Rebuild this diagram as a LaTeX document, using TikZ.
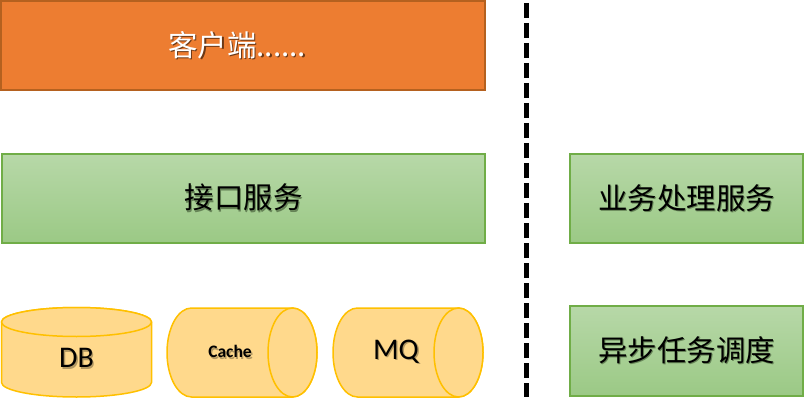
\documentclass[tikz,border=0pt]{standalone}
\usepackage{fontspec}
\newfontfamily\cjk{Noto Sans CJK SC}
\newfontfamily\lat{Carlito}
\usetikzlibrary{calc}
\definecolor{orfill}{HTML}{ED7D31}
\definecolor{ordraw}{HTML}{B5611F}
\definecolor{gtop}{HTML}{B7D8A8}
\definecolor{gbot}{HTML}{9BC985}
\definecolor{gdraw}{HTML}{70AD47}
\definecolor{yfill}{HTML}{FFD98C}
\definecolor{ydraw}{HTML}{FFC000}
\newcommand\shd[2]{\makebox[0pt][l]{\kern1.4pt\raisebox{-1.4pt}{\color{#2}#1}}#1}
\tikzset{
  obox/.style={draw=ordraw, fill=orfill, line width=1.5pt, inner sep=0pt, outer sep=0pt},
  gbox/.style={draw=gdraw, top color=gtop, bottom color=gbot, line width=1.5pt, inner sep=0pt, outer sep=0pt},
  cyl/.style={draw=ydraw, fill=yfill, line width=1.5pt},
  cjklabel/.style={font=\cjk\fontsize{29.5}{32}\selectfont, inner sep=0pt},
  latlabel/.style={font=\lat\fontsize{30}{32}\selectfont, inner sep=0pt},
  dashline/.style={line width=4.5pt, dash pattern=on 15pt off 5pt},
}
\begin{document}
\begin{tikzpicture}[x=1pt,y=1pt]
\useasboundingbox (0,0) rectangle (805,402);
% boxes
\node[obox, minimum width=484pt, minimum height=89pt] (client) at (243,356.5) {};
\node[gbox, minimum width=483pt, minimum height=89pt] (api) at (243.5,203.5) {};
\node[gbox, minimum width=233pt, minimum height=89pt] (biz) at (686.5,203.5) {};
\node[gbox, minimum width=233pt, minimum height=90pt] (async) at (686.5,51) {};
% labels
\node[cjklabel, text=white] (clientt) at (237,356.5) {\shd{客户端......}{black!55!orfill}};
\node[cjklabel] (apit) at (243.5,203.5) {\shd{接口服务}{black!35!gbot}};
\node[cjklabel] (bizt) at (686.5,203.5) {\shd{业务处理服务}{black!35!gbot}};
\node[cjklabel] (asynct) at (686.5,51) {\shd{异步任务调度}{black!35!gbot}};
% DB cylinder (vertical)
\draw[cyl] (1.5,80) -- (1.5,19.5) arc[start angle=180,end angle=360,x radius=75,y radius=14.5] -- (151.5,80) arc[start angle=0,end angle=180,x radius=75,y radius=14.5] -- cycle;
\draw[cyl] (76.5,80) ellipse[x radius=75,y radius=14.5];
% Cache cylinder (horizontal)
\draw[cyl] (191.5,94) -- (292.5,94) arc[start angle=90,end angle=-90,x radius=24.5,y radius=44.5] -- (191.5,5) arc[start angle=270,end angle=90,x radius=24.5,y radius=44.5] -- cycle;
\draw[cyl] (292.5,49.5) ellipse[x radius=24.5,y radius=44.5];
% MQ cylinder (horizontal)
\draw[cyl] (357.5,94) -- (458.5,94) arc[start angle=90,end angle=-90,x radius=24.5,y radius=44.5] -- (357.5,5) arc[start angle=270,end angle=90,x radius=24.5,y radius=44.5] -- cycle;
\draw[cyl] (458.5,49.5) ellipse[x radius=24.5,y radius=44.5];
\node[latlabel] (dbt) at (76.5,43) {\shd{DB}{black!30!yfill}};
\node[font=\lat\bfseries\fontsize{17.5}{20}\selectfont, inner sep=0pt] (cachet) at (230,49.5) {\shd{Cache}{black!30!yfill}};
\node[latlabel] (mqt) at (396,49.5) {\shd{MQ}{black!30!yfill}};
% divider
\coordinate (dtop) at (526.5,399);
\coordinate (dbot) at (526.5,5);
\draw[dashline] (dtop) -- (dbot);
\end{tikzpicture}
\end{document}
